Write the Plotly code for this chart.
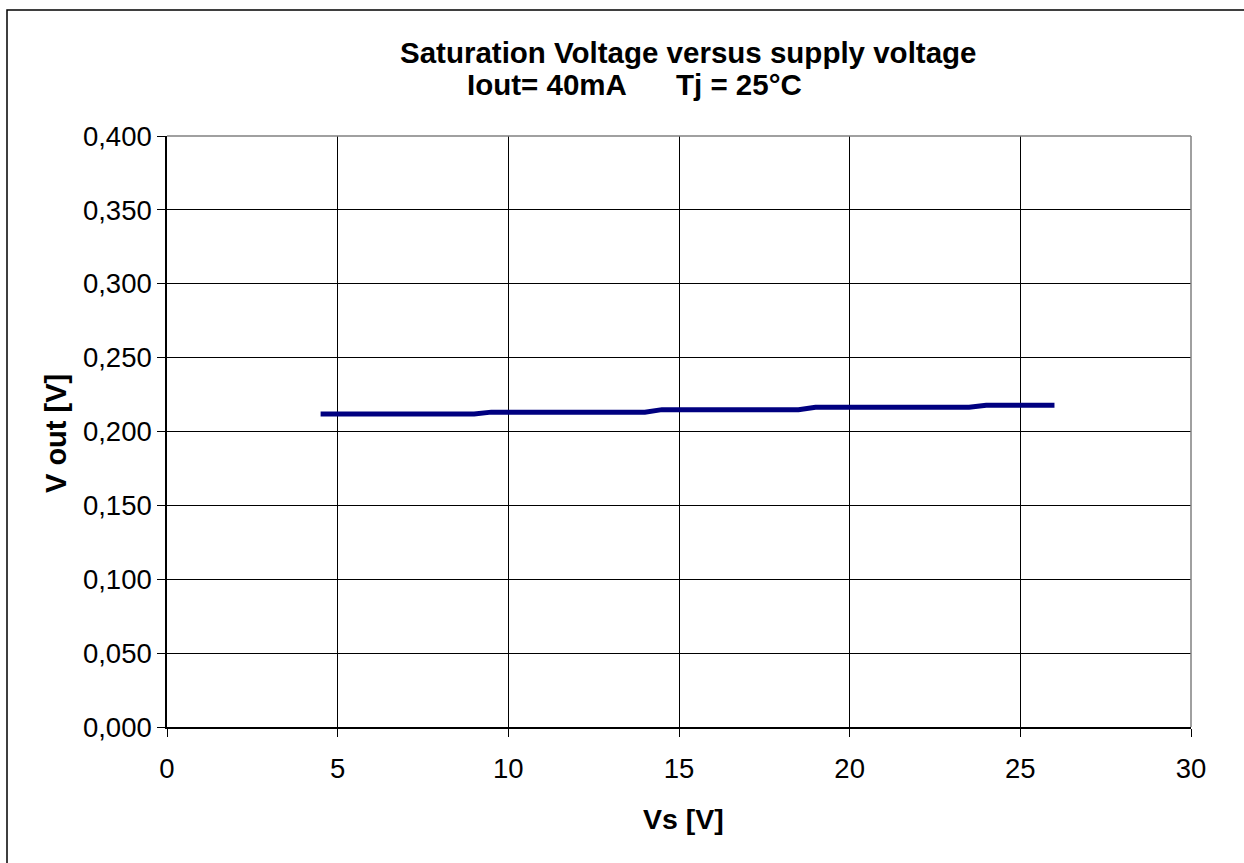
import plotly.graph_objects as go

vs = [4.5, 9.0, 9.5, 14.0, 14.5, 18.5, 19.0, 23.5, 24.0, 26.0]
vout = [0.2118, 0.2118, 0.2131, 0.2131, 0.2148, 0.2148, 0.2164, 0.2164, 0.2177, 0.2177]

title_line1 = "Saturation Voltage versus supply voltage"
title_line2 = "Iout= 40mA\u00a0\u00a0\u00a0\u00a0\u00a0\u00a0Tj = 25°C"
x_title = "Vs [V]"
y_title = "V out [V]"

W, H = 1244, 863
L, R, T, B = 167, 1191, 136, 727
pw, ph = R - L, B - T

def px(x):
    return (x - L) / pw

def py(y):
    return (B - y) / ph

fig = go.Figure()
fig.add_trace(go.Scatter(x=vs, y=vout, mode="lines",
                         line=dict(color="#000080", width=5), showlegend=False))

font = "Liberation Sans, Arial, sans-serif"
fig.update_layout(
    width=W, height=H,
    margin=dict(l=L, r=W - R, t=T, b=H - B),
    paper_bgcolor="white", plot_bgcolor="white",
    separators=", ",
    font=dict(family=font, size=28, color="black"),
    xaxis=dict(range=[0, 30], dtick=5, tick0=0, showgrid=True, gridcolor="black", gridwidth=1,
               showline=True, linecolor="black", linewidth=1.5, mirror=False,
               ticks="outside", ticklen=8, tickcolor="black", zeroline=False,
               ticklabelstandoff=8, tickfont=dict(size=27.5)),
    yaxis=dict(range=[0, 0.4], dtick=0.05, tick0=0, tickformat=".3f", showgrid=True,
               gridcolor="black", gridwidth=1, showline=True, linecolor="black", linewidth=1.5,
               ticks="outside", ticklen=8, tickcolor="black", zeroline=False,
               tickfont=dict(size=27.5)),
    shapes=[
        dict(type="rect", xref="paper", yref="paper",
             x0=px(7), x1=px(1300), y0=py(920), y1=py(10),
             line=dict(color="black", width=1.5), fillcolor="rgba(0,0,0,0)", layer="below"),
        dict(type="line", xref="paper", yref="paper", x0=0, x1=1, y0=1, y1=1,
             line=dict(color="#808080", width=1.5)),
        dict(type="line", xref="paper", yref="paper", x0=1, x1=1, y0=0, y1=1,
             line=dict(color="#808080", width=1.5)),
    ],
    annotations=[
        dict(text="<b>%s</b>" % title_line1, xref="paper", yref="paper",
             x=px(688), y=py(52), showarrow=False, xanchor="center", yanchor="middle",
             font=dict(size=29.5)),
        dict(text="<b>%s</b>" % title_line2, xref="paper", yref="paper",
             x=px(634), y=py(84), showarrow=False, xanchor="center", yanchor="middle",
             font=dict(size=29.5)),
        dict(text="<b>%s</b>" % x_title, xref="paper", yref="paper",
             x=px(683), y=py(819), showarrow=False, xanchor="center", yanchor="middle",
             font=dict(size=28.5)),
        dict(text="<b>%s</b>" % y_title, xref="paper", yref="paper",
             x=px(56), y=py(434), showarrow=False, xanchor="center", yanchor="middle",
             textangle=-90, font=dict(size=29)),
    ],
)

fig.write_html("out.html", config={"displayModeBar": False},
               post_script="document.body.style.margin='0';document.body.style.overflow='hidden';")
